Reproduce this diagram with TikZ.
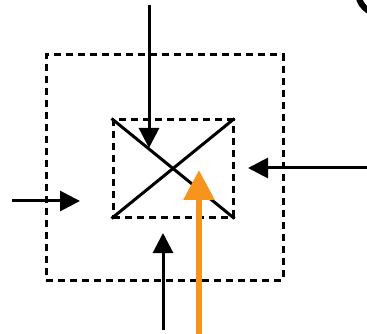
\documentclass[tikz,border=0pt]{standalone}
\usetikzlibrary{arrows.meta}
\definecolor{orng}{HTML}{F7941D}
\begin{document}
\begin{tikzpicture}[x=1pt,y=-1pt,
  dbox/.style={draw,dash pattern=on 7pt off 5pt,line width=3pt},
  xline/.style={line width=3pt},
  arr/.style={line width=3pt,-{Triangle[length=20pt,width=20pt]}},
  oarr/.style={draw=orng,line width=6pt,-{Triangle[length=30pt,width=30pt]}}]
\useasboundingbox (0,0) rectangle (367,334);
\node[dbox,minimum width=237pt,minimum height=225pt,inner sep=0pt] (outer) at (164.5,167.5) {};
\node[dbox,minimum width=120pt,minimum height=97pt,inner sep=0pt] (inner) at (173,168.5) {};
\draw[xline] (inner.north west) -- (inner.south east);
\draw[xline] (inner.south west) -- (inner.north east);
\coordinate (t0) at (149,5);   \coordinate (t1) at (149,148);
\coordinate (r0) at (367,168); \coordinate (r1) at (248,168);
\coordinate (l0) at (12,201);  \coordinate (l1) at (80,201);
\coordinate (b0) at (163,330); \coordinate (b1) at (163,233);
\coordinate (o0) at (199,334); \coordinate (o1) at (199,170);
\draw[arr] (t0) -- (t1);
\draw[arr] (r0) -- (r1);
\draw[arr] (l0) -- (l1);
\draw[arr] (b0) -- (b1);
\draw[oarr] (o0) -- (o1);
\begin{scope}
\clip (0,0) rectangle (367,334);
\draw[line width=6pt] (380,-8) circle (22pt);
\end{scope}
\end{tikzpicture}
\end{document}
